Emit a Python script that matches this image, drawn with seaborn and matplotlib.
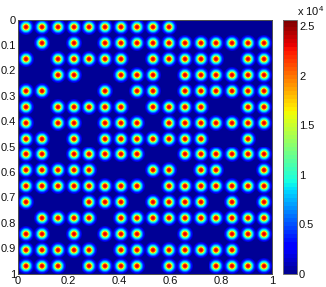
import numpy as np
import matplotlib
matplotlib.use("Agg")
import matplotlib.pyplot as plt
import seaborn as sns
from matplotlib.colors import ListedColormap

# occupied columns in each row of the 16x16 grid
row_0 = [0, 1, 2, 3, 4, 5, 6, 7, 8, 9]
row_1 = [1, 3, 5, 6, 7, 8, 9, 10, 11, 12, 13, 14, 15]
row_2 = [0, 2, 3, 4, 5, 6, 8, 9, 10, 11, 12, 14, 15]
row_3 = [2, 3, 6, 7, 8, 10, 11, 12, 13, 14, 15]
row_4 = [0, 1, 5, 7, 8, 10, 11, 12, 13, 14, 15]
row_5 = [0, 2, 3, 4, 5, 6, 8, 9, 10, 11, 14, 15]
row_6 = [0, 2, 3, 5, 6, 7, 9, 10, 11, 12, 13, 14, 15]
row_7 = [0, 1, 3, 5, 6, 7, 8, 9, 10, 11, 14]
row_8 = [0, 1, 3, 4, 5, 6, 7, 10, 11, 12, 13, 14, 15]
row_9 = [0, 1, 2, 3, 4, 8, 9, 11, 12, 15]
row_10 = [0, 1, 2, 3, 4, 5, 6, 7, 9, 10, 11, 12, 13, 14, 15]
row_11 = [0, 4, 5, 6, 8, 9, 10, 11, 13, 15]
row_12 = [1, 2, 3, 4, 6, 7, 8, 9, 10, 11, 12, 13, 14, 15]
row_13 = [0, 1, 3, 5, 6, 7, 10, 13, 14, 15]
row_14 = [0, 1, 2, 3, 4, 6, 7, 8, 9, 10, 11, 12, 13]
row_15 = [0, 1, 2, 4, 5, 6, 7, 9, 10, 12, 13, 14, 15]
rows = [row_0, row_1, row_2, row_3, row_4, row_5, row_6, row_7,
        row_8, row_9, row_10, row_11, row_12, row_13, row_14, row_15]

# one spot: value against distance from its centre (in grid cells)
spot_r = [0.0, 0.06, 0.11, 0.15, 0.19, 0.23, 0.28, 0.34, 0.40, 0.46, 0.54]
spot_v = [23500, 23000, 22000, 19500, 15500, 11500, 8800, 6000, 3800, 2000, 0]

tick_vals = [0, 0.2, 0.4, 0.6, 0.8, 1]
ytick_vals = [0, 0.1, 0.2, 0.3, 0.4, 0.5, 0.6, 0.7, 0.8, 0.9, 1]
cbar_ticks = [0, 5000, 10000, 15000, 20000, 25000]
cbar_labels = ['0', '0.5', '1', '1.5', '2', '2.5']

n = 16
c = (np.arange(n) + 0.5) / n - 0.5
xx, yy = np.meshgrid(c, c)
tile = np.interp(np.hypot(xx, yy), spot_r, spot_v)

field = np.zeros((16 * n, 16 * n))
for i, cols in enumerate(rows):
    for j in cols:
        field[i * n:(i + 1) * n, j * n:(j + 1) * n] = tile

sns.set_theme(style="white")
plt.rcParams['font.family'] = ['Liberation Sans', 'DejaVu Sans']
plt.rcParams['mathtext.default'] = 'regular'

W, H = 326, 287
fig = plt.figure(figsize=(W / 100, H / 100), dpi=100)
ax = fig.add_axes([18 / W, 1 - 273.5 / H, 254 / W, 254 / H])
cax = fig.add_axes([283 / W, 1 - 274 / H, 14 / W, 254.5 / H])

cmap = ListedColormap(plt.get_cmap('jet')(np.linspace(0.02, 1, 64)))
sns.heatmap(field, ax=ax, cbar_ax=cax, cmap=cmap, vmin=0, vmax=25700,
            xticklabels=False, yticklabels=False, square=False)

ax.set_xticks([v * 16 * n for v in tick_vals])
ax.set_xticklabels([f"{v:g}" for v in tick_vals], rotation=0)
ax.set_yticks([v * 16 * n for v in ytick_vals])
ax.set_yticklabels([f"{v:g}" for v in ytick_vals], rotation=0)
ax.tick_params(length=2, width=0.5, direction='in', color='#404040', labelsize=8,
               labelcolor='#111111', pad=1.5)
for s in ax.spines.values():
    s.set_visible(True)
    s.set_color('#505050')
    s.set_linewidth(0.7)

cax.set_yticks(cbar_ticks)
cax.set_yticklabels(cbar_labels)
cax.tick_params(length=2, width=0.5, direction='in', color='#404040', labelsize=8,
                labelcolor='#111111', pad=1.5, right=True, left=False)
cb = ax.collections[0].colorbar
cb.outline.set_visible(True)
cb.outline.set_edgecolor('#707070')
cb.outline.set_linewidth(0.7)

fig.text(297 / W, 1 - 16 / H, r'x 10$^4$', fontsize=8, color='#111111', ha='left', va='baseline')

fig.savefig('out.png', dpi=100)
